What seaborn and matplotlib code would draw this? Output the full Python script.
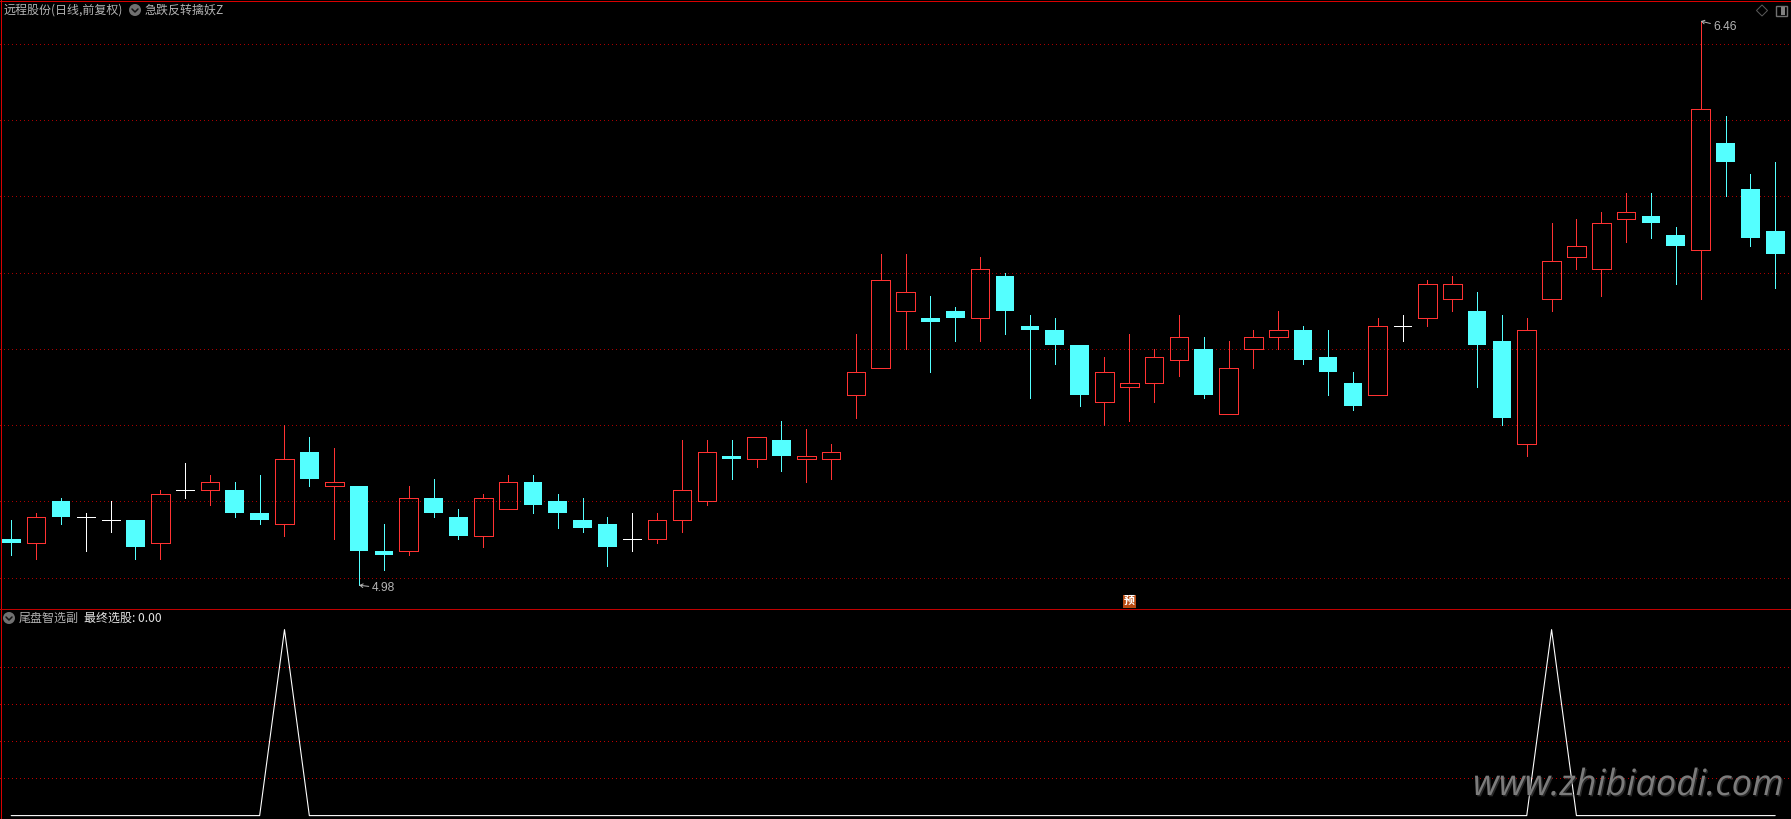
import numpy as np
import pandas as pd
import seaborn as sns
import matplotlib
matplotlib.use("Agg")
import matplotlib.pyplot as plt
from matplotlib.patches import Circle, Rectangle, Polygon
import matplotlib.patheffects as pe

# ------------------ data ------------------
opens = [5.10,5.09,5.20,5.16,5.15,5.15,5.09,5.23,5.23,5.23,5.17,5.14,5.33,5.24,5.24,5.07,5.07,5.21,
         5.16,5.11,5.18,5.25,5.20,5.15,5.14,5.10,5.10,5.15,5.20,5.32,5.31,5.36,5.31,5.31,
         5.48,5.55,5.70,5.68,5.70,5.68,5.79,5.66,5.65,5.61,5.46,5.50,5.51,5.57,5.60,5.43,5.60,5.63,5.65,
         5.58,5.51,5.48,5.66,5.68,5.73,5.70,5.62,5.35,5.73,5.84,5.81,5.94,5.95,5.90,5.86,6.14,6.02,5.91]
closes = [5.09,5.16,5.16,5.16,5.15,5.08,5.22,5.23,5.25,5.17,5.15,5.31,5.26,5.25,5.07,5.06,5.21,5.17,
          5.11,5.21,5.25,5.19,5.17,5.13,5.08,5.10,5.15,5.23,5.33,5.31,5.37,5.32,5.32,5.33,
          5.54,5.78,5.75,5.67,5.68,5.81,5.70,5.65,5.61,5.48,5.54,5.51,5.58,5.63,5.48,5.55,5.63,5.65,5.57,
          5.54,5.45,5.66,5.66,5.77,5.77,5.61,5.42,5.65,5.83,5.87,5.93,5.96,5.93,5.87,6.23,6.09,5.89,5.85]
highs = [5.15,5.17,5.21,5.17,5.20,5.15,5.23,5.30,5.27,5.25,5.27,5.40,5.37,5.34,5.24,5.14,5.24,5.26,
         5.18,5.22,5.27,5.27,5.22,5.21,5.16,5.17,5.17,5.36,5.36,5.36,5.37,5.41,5.39,5.35,
         5.64,5.85,5.85,5.74,5.71,5.84,5.80,5.69,5.68,5.61,5.58,5.64,5.60,5.69,5.63,5.62,5.65,5.70,5.66,
         5.65,5.54,5.68,5.69,5.78,5.79,5.75,5.69,5.68,5.93,5.94,5.96,6.01,6.01,5.92,6.46,6.21,6.06,6.09]
lows = [5.06,5.05,5.14,5.07,5.12,5.05,5.05,5.21,5.19,5.16,5.14,5.11,5.24,5.10,4.98,5.02,5.06,5.16,
        5.10,5.08,5.18,5.17,5.13,5.12,5.03,5.07,5.09,5.12,5.19,5.26,5.29,5.28,5.25,5.26,
        5.42,5.55,5.60,5.54,5.62,5.62,5.64,5.47,5.56,5.45,5.40,5.41,5.46,5.53,5.47,5.43,5.55,5.60,5.56,
        5.48,5.44,5.48,5.62,5.66,5.70,5.50,5.40,5.32,5.70,5.81,5.74,5.88,5.89,5.77,5.73,6.00,5.87,5.76]
signal_days = [11, 62]
signal_value = 1.0
price_grid = [5.0, 5.2, 5.4, 5.6, 5.8, 6.0, 6.2, 6.4]
signal_grid = [0.2, 0.4, 0.6, 0.8]
title_main = "远程股份(日线,前复权)"
title_formula = "急跌反转擒妖Z"
title_sub = "尾盘智选副"
title_value = "最终选股: 0.00"
badge_text = "预"
watermark = "www.zhibiaodi.com"

# ------------------ style ------------------
W, H = 1791, 819
RED = "#ff3232"
CYAN = "#54ffff"
WHITE = "#ffffff"
GRID = "#a80000"
BORDER = "#d80000"
GREY = "#b4b4b4"
sns.set_theme(style="dark", rc={"figure.facecolor": "black", "axes.facecolor": "black",
                                "savefig.facecolor": "black"})
plt.rcParams["font.family"] = ["Noto Sans CJK SC", "DejaVu Sans"]
PX = 72 / 100

df = pd.DataFrame({"day": np.arange(len(opens)), "open": opens, "close": closes,
                   "high": highs, "low": lows})
df["top"] = df[["open", "close"]].max(axis=1)
df["bot"] = df[["open", "close"]].min(axis=1)
df["kind"] = np.where(df.close > df.open, "up", np.where(df.close < df.open, "down", "flat"))
colors = {"up": RED, "down": CYAN, "flat": WHITE}

fig = plt.figure(figsize=(W / 100, H / 100), dpi=100)
SEP = 609
ax = fig.add_axes([0, 1 - SEP / H, 1, SEP / H])
ax2 = fig.add_axes([0, 0, 1, 1 - SEP / H])

X0, DX = 11.2, 24.845
xlim = (-X0 / DX, (W - X0) / DX)

# ------------------ main panel ------------------
for p in price_grid:
    ax.plot(xlim, [p, p], color=GRID, lw=PX, ls=(0, (1, 3)), antialiased=False, zorder=1)

for kind, col in colors.items():
    d = df[df.kind == kind]
    ax.vlines(d.day, d.top, d.high, color=col, lw=PX, antialiased=False, zorder=2)
    ax.vlines(d.day, d.low, d.bot, color=col, lw=PX, antialiased=False, zorder=2)

BW = 0.75
up = df[df.kind == "up"]
dn = df[df.kind == "down"]
fl = df[df.kind == "flat"]
sns.barplot(x=up.day.values, y=(up.top - up.bot).values, bottom=up.bot.values, native_scale=True,
            width=BW, errorbar=None, fill=False, color=RED, linewidth=PX, saturation=1, ax=ax,
            antialiased=False, zorder=3)
sns.barplot(x=dn.day.values, y=(dn.top - dn.bot).values, bottom=dn.bot.values, native_scale=True,
            width=BW, errorbar=None, color=CYAN, linewidth=0, saturation=1, ax=ax,
            antialiased=False, zorder=3)
ax.hlines(fl.top, fl.day - 0.36, fl.day + 0.36, color=WHITE, lw=PX, antialiased=False, zorder=3)

ax.set_xlim(*xlim)
PPX = 381.15  # pixels per unit of price
Y5 = 577.6    # pixel row of price 5.00
ax.set_ylim(5 - (SEP - Y5) / PPX, 5 + Y5 / PPX)
ax.axis("off")

i_lo = int(df.low.idxmin())
i_hi = int(df.high.idxmax())
ax.annotate(f"{df.low[i_lo]:.2f}", xy=(i_lo, df.low[i_lo]), xytext=(13, -3), textcoords="offset pixels",
            color=GREY, fontsize=12 * PX, va="center", ha="left", family="Liberation Sans",
            arrowprops=dict(arrowstyle="->,head_length=0.25,head_width=0.15", color=GREY, lw=PX,
                            shrinkA=0, shrinkB=0))
ax.annotate(f"{df.high[i_hi]:.2f}", xy=(i_hi, df.high[i_hi]), xytext=(13, -6), textcoords="offset pixels",
            color=GREY, fontsize=12 * PX, va="center", ha="left", family="Liberation Sans",
            arrowprops=dict(arrowstyle="->,head_length=0.25,head_width=0.15", color=GREY, lw=PX,
                            shrinkA=0, shrinkB=0))

# ------------------ lower panel ------------------
for g in signal_grid:
    ax2.plot(xlim, [g, g], color="#c00000", lw=PX, ls=(0, (1, 3)), antialiased=False, zorder=1)
sig = pd.DataFrame({"day": df.day, "v": [signal_value if d in signal_days else 0.0 for d in df.day]})
sns.lineplot(data=sig, x="day", y="v", color="#ffffff", linewidth=1.1 * PX, ax=ax2, zorder=2,
             errorbar=None, antialiased=True)
ax2.set_xlim(*xlim)
PPS = 186.0
ax2.set_ylim(-(H - 815.6) / PPS, (815.6 - SEP) / PPS)
ax2.axis("off")

# ------------------ overlay furniture in figure pixels ------------------
ov = fig.add_axes([0, 0, 1, 1], zorder=10)
ov.set_xlim(0, W)
ov.set_ylim(H, 0)
ov.axis("off")
ov.patch.set_alpha(0)

ov.plot([0.5, 0.5], [0, H], color=BORDER, lw=PX, antialiased=False)
ov.plot([W - 0.5, W - 0.5], [0, H], color=BORDER, lw=PX, antialiased=False)
ov.plot([0, W], [0.5, 0.5], color=BORDER, lw=PX, antialiased=False)
ov.plot([0, W], [SEP, SEP], color="#c00000", lw=PX, antialiased=False)


def chevron_icon(cx, cy):
    ov.add_patch(Circle((cx, cy), 6, color="#707070", lw=0))
    ov.plot([cx - 3, cx, cx + 3], [cy - 1, cy + 2, cy - 1], color="#111111", lw=1.1)


chevron_icon(135, 10)
chevron_icon(9, 618)
txt = dict(fontsize=12 * PX, va="center", ha="left")
ov.text(4, 10, title_main, color=GREY, **txt)
ov.text(145, 10, title_formula, color=GREY, **txt)
ov.text(19, 618, title_sub, color=GREY, **txt)
ov.text(84, 618, title_value, color="#e6e6e6", **txt)

# top-right window glyphs
ov.add_patch(Polygon([(1762, 5), (1767.5, 10.5), (1762, 16), (1756.5, 10.5)], closed=True, fill=False,
                     ec="#5a5a5a", lw=PX))
ov.add_patch(Rectangle((1775.5, 5.5), 11, 10, fill=False, ec="#707070", lw=PX * 1.4))
ov.add_patch(Rectangle((1781, 6.5), 4, 8, color="#808080", lw=0))

# badge
ov.add_patch(Rectangle((1123, 595), 13, 13, color="#b84a10", lw=0))
ov.text(1129.5, 601, badge_text, color="white", fontsize=11 * PX, ha="center", va="center",
        fontweight="bold")

# watermark
ov.text(1473, 786, watermark, color="#7c7c7c", fontsize=26, style="italic", family="Open Sans",
        ha="left", va="center",
        path_effects=[pe.withSimplePatchShadow(offset=(1, -1), shadow_rgbFace="#444444", alpha=0.6)])

fig.savefig("out.png", dpi=100, facecolor="black")
